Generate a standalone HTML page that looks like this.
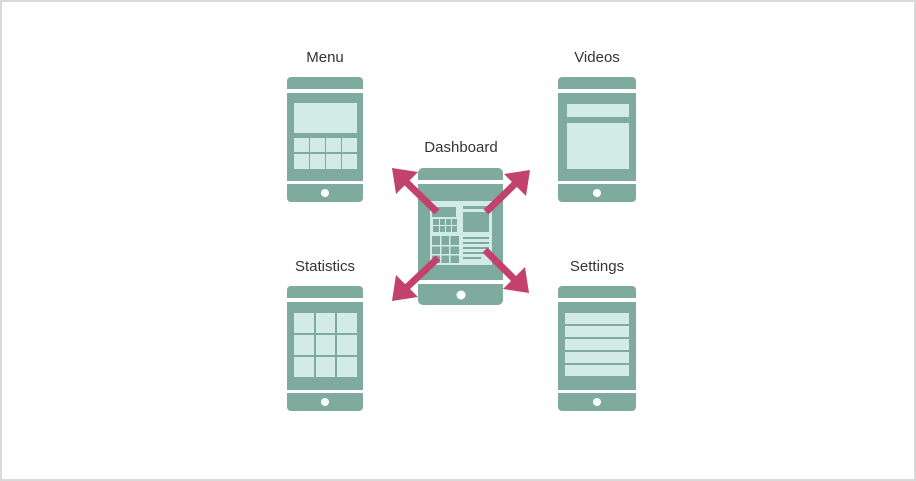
<!DOCTYPE html>
<html><head><style>
html,body{margin:0;padding:0;background:#fff}
svg{display:block}
text{font-family:"Liberation Sans",sans-serif;font-size:15px;fill:#333;text-anchor:middle}
</style></head><body>
<svg width="916" height="481" viewBox="0 0 916 481">
<rect x="0.5" y="0.5" width="915" height="480" fill="#fff" stroke="#d9d9d9" stroke-width="3"/>
<g fill="#7fab9f">
<!-- Menu -->
<path d="M287 89V81a4 4 0 0 1 4-4h68a4 4 0 0 1 4 4v8z"/>
<rect x="287" y="93" width="76" height="88"/>
<path d="M287 184h76v14a4 4 0 0 1-4 4h-68a4 4 0 0 1-4-4z"/>
<!-- Videos -->
<path d="M558 89V81a4 4 0 0 1 4-4h70a4 4 0 0 1 4 4v8z"/>
<rect x="558" y="93" width="78" height="88"/>
<path d="M558 184h78v14a4 4 0 0 1-4 4h-70a4 4 0 0 1-4-4z"/>
<!-- Statistics -->
<path d="M287 298V290a4 4 0 0 1 4-4h68a4 4 0 0 1 4 4v8z"/>
<rect x="287" y="302" width="76" height="88"/>
<path d="M287 393h76v14a4 4 0 0 1-4 4h-68a4 4 0 0 1-4-4z"/>
<!-- Settings -->
<path d="M558 298V290a4 4 0 0 1 4-4h70a4 4 0 0 1 4 4v8z"/>
<rect x="558" y="302" width="78" height="88"/>
<path d="M558 393h78v14a4 4 0 0 1-4 4h-70a4 4 0 0 1-4-4z"/>
<!-- Dashboard -->
<path d="M418 180V173a5 5 0 0 1 5-5h75a5 5 0 0 1 5 5v7z"/>
<rect x="418" y="184" width="85" height="96"/>
<path d="M418 284h85v16a5 5 0 0 1-5 5h-75a5 5 0 0 1-5-5z"/>
</g>
<g fill="#fff">
<circle cx="325" cy="193" r="4"/><circle cx="597" cy="193" r="4"/>
<circle cx="325" cy="402" r="4"/><circle cx="597" cy="402" r="4"/>
<circle cx="461" cy="295" r="4.5"/>
</g>
<g fill="#d3ebe6">
<!-- menu -->
<rect x="294" y="103" width="63" height="30"/>
<rect x="294" y="138" width="15" height="14"/><rect x="310" y="138" width="15" height="14"/><rect x="326" y="138" width="15" height="14"/><rect x="342" y="138" width="15" height="14"/>
<rect x="294" y="154" width="15" height="15"/><rect x="310" y="154" width="15" height="15"/><rect x="326" y="154" width="15" height="15"/><rect x="342" y="154" width="15" height="15"/>
<!-- videos -->
<rect x="567" y="104" width="62" height="13"/>
<rect x="567" y="123" width="62" height="46"/>
<!-- statistics -->
<rect x="294" y="313" width="20" height="20"/><rect x="316" y="313" width="19" height="20"/><rect x="337" y="313" width="20" height="20"/>
<rect x="294" y="335" width="20" height="20"/><rect x="316" y="335" width="19" height="20"/><rect x="337" y="335" width="20" height="20"/>
<rect x="294" y="357" width="20" height="20"/><rect x="316" y="357" width="19" height="20"/><rect x="337" y="357" width="20" height="20"/>
<!-- settings -->
<rect x="565" y="313" width="64" height="11"/><rect x="565" y="326" width="64" height="11"/><rect x="565" y="339" width="64" height="11"/><rect x="565" y="352" width="64" height="11"/><rect x="565" y="365" width="64" height="11"/>
<!-- dashboard panel -->
<rect x="430" y="201" width="62" height="64"/>
</g>
<g fill="#7fab9f">
<rect x="432" y="207" width="24" height="10"/>
<rect x="433" y="219" width="24" height="13"/>
<rect x="463" y="206" width="26" height="3"/>
<rect x="463" y="212" width="26" height="20"/>
<rect x="432" y="236" width="27" height="27"/>
<rect x="463" y="237" width="26" height="2"/><rect x="463" y="242" width="26" height="2"/><rect x="463" y="247" width="26" height="2"/><rect x="463" y="252" width="26" height="2"/><rect x="463" y="257" width="18" height="2"/>
</g>
<g fill="#d3ebe6">
<rect x="439" y="219" width="1" height="13"/><rect x="445" y="219" width="1" height="13"/><rect x="451" y="219" width="1" height="13"/><rect x="433" y="225" width="24" height="1"/>
<rect x="440" y="236" width="1.5" height="27"/><rect x="449" y="236" width="1.5" height="27"/><rect x="432" y="245" width="27" height="1.5"/><rect x="432" y="254" width="27" height="1.5"/>
</g>
<g stroke="#c3426c" stroke-width="7" fill="#c3426c">
<line x1="437" y1="212" x2="403" y2="179"/>
<line x1="486" y1="212" x2="519" y2="180"/>
<line x1="438" y1="258" x2="404" y2="290"/>
<line x1="485" y1="250" x2="518" y2="283"/>
</g>
<g fill="#c3426c">
<polygon points="392,168 418,172 396,194"/>
<polygon points="530,170 504,174 526,196"/>
<polygon points="392,301 396,275 418,297"/>
<polygon points="529,293 525,267 503,289"/>
</g>
<text x="325" y="62">Menu</text>
<text x="597" y="62">Videos</text>
<text x="461" y="152">Dashboard</text>
<text x="325" y="271">Statistics</text>
<text x="597" y="271">Settings</text>
</svg>
</body></html>
